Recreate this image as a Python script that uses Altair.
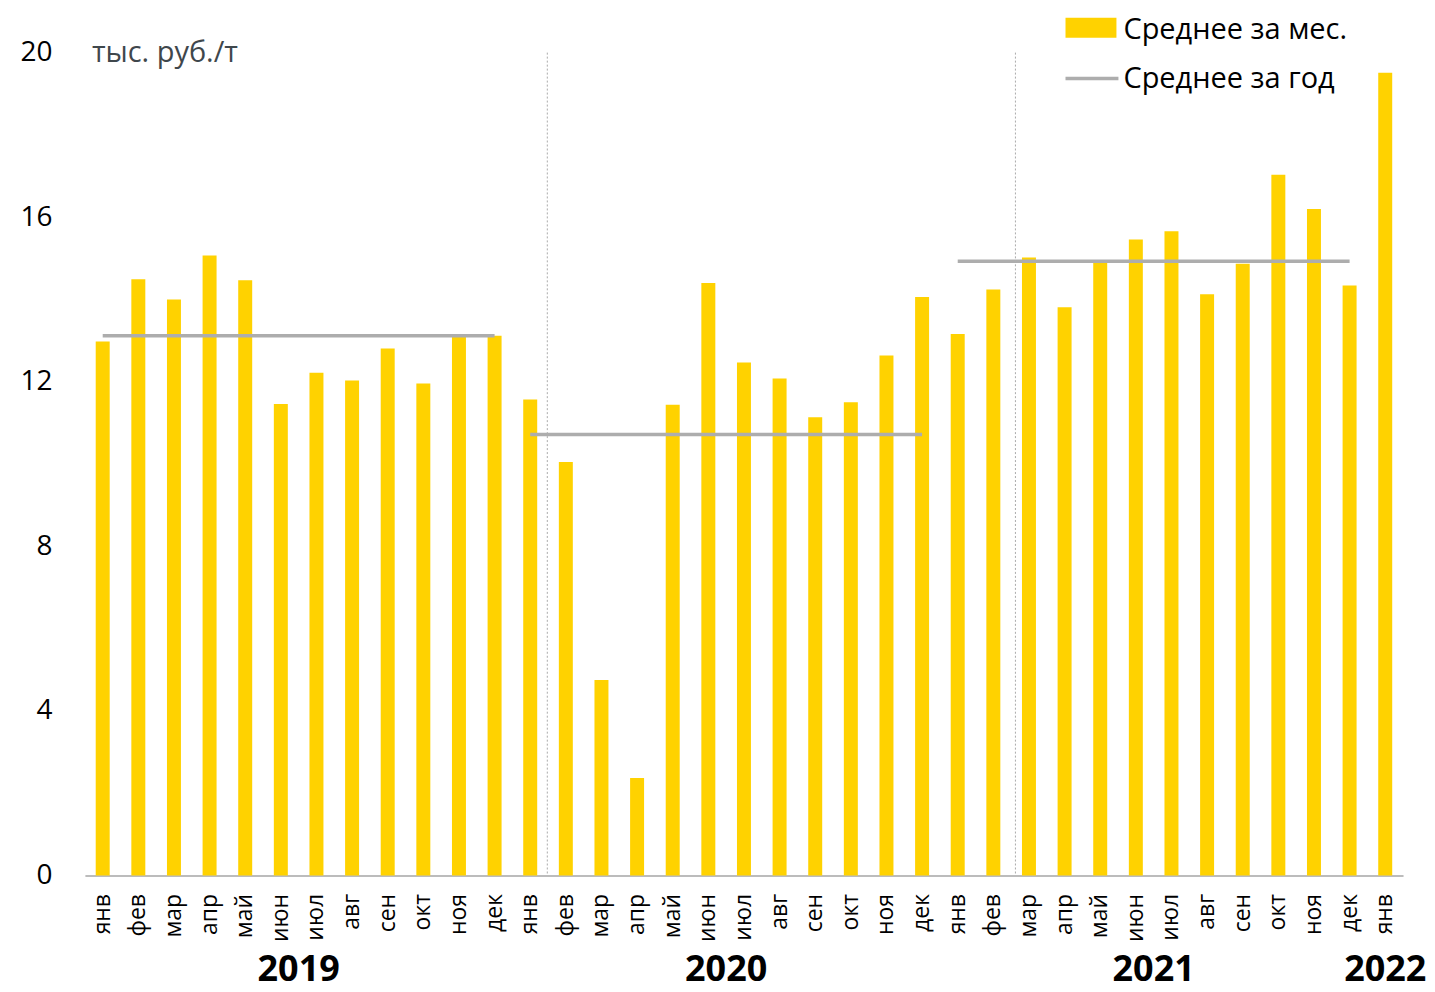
import json
import altair as alt
import pandas as pd

# ---- data ----
months = ["янв", "фев", "мар", "апр", "май", "июн", "июл", "авг", "сен", "окт", "ноя", "дек"] * 3 + ["янв"]
values = [12.98, 14.49, 14.0, 15.07, 14.47, 11.46, 12.22, 12.03, 12.81, 11.96, 13.11, 13.12,
          11.57, 10.05, 4.75, 2.37, 11.44, 14.40, 12.47, 12.08, 11.14, 11.5, 12.64, 14.06,
          13.16, 14.24, 15.02, 13.81, 14.89, 15.46, 15.66, 14.13, 14.87, 17.03, 16.2, 14.34, 19.51]
year_avg = [13.12, 10.72, 14.93]
year_start = [0, 12, 24]
year_end = [11, 23, 35]
years = ["2019", "2020", "2021"]
years_label_idx = [5, 17, 29]
last_year = ["2022"]
last_year_idx = [36]
sep_a_idx = [12]
sep_b_idx = [26]
ticks = [0, 4, 8, 12, 16, 20]
unit = "тыс. руб./т"
legend_bar = "Среднее за мес."
legend_line = "Среднее за год"

FONT = "Open Sans"
YELLOW = "#FFD200"
GRAY = "#ADADAD"
W, H = 1320, 824
N = len(values)

df = pd.DataFrame({"idx": list(range(N)), "value": values})
avg_df = pd.DataFrame({"start": year_start, "end": year_end, "avg": year_avg})
yr_df = pd.DataFrame({"idx": years_label_idx, "year": years})
yr2_df = pd.DataFrame({"idx": last_year_idx, "year": last_year})

xscale = alt.Scale(domain=list(range(N)), paddingInner=0, paddingOuter=0)
yscale = alt.Scale(domain=[0, 20])
label_expr = json.dumps(months, ensure_ascii=False) + "[datum.value]"

bars = alt.Chart(df).mark_bar(size=14, color=YELLOW).encode(
    x=alt.X("idx:O", scale=xscale, title=None,
            axis=alt.Axis(labelExpr=label_expr, labelAngle=270, labelFontSize=23,
                          labelFont=FONT, labelColor="#000000", ticks=False,
                          labelPadding=18, domainColor="#A6A6A6", domainWidth=1.5,
                          grid=False, title=None)),
    y=alt.Y("value:Q", scale=yscale, title=None,
            axis=alt.Axis(values=ticks, labelFontSize=28, labelFont=FONT,
                          labelColor="#000000", ticks=False, domain=False,
                          grid=False, labelPadding=33, title=None)),
)

avg_rules = alt.Chart(avg_df).mark_rule(color=GRAY, strokeWidth=3.5).encode(
    x=alt.X("start:O", scale=xscale, title=None),
    x2="end:O",
    y=alt.Y("avg:Q", scale=yscale, title=None),
)

sep_a = alt.Chart(pd.DataFrame({"idx": sep_a_idx})).mark_rule(
    color="#AAAAAA", strokeDash=[2, 2], strokeWidth=1).encode(
    x=alt.X("idx:O", scale=xscale, title=None, bandPosition=0.98),
    y=alt.value(0), y2=alt.value(H))
sep_b = alt.Chart(pd.DataFrame({"idx": sep_b_idx})).mark_rule(
    color="#AAAAAA", strokeDash=[2, 2], strokeWidth=1).encode(
    x=alt.X("idx:O", scale=xscale, title=None, bandPosition=0.12),
    y=alt.value(0), y2=alt.value(H))

yr_text = alt.Chart(yr_df).mark_text(
    font=FONT, fontSize=36, fontWeight="bold", color="#000000",
    baseline="middle", align="center").encode(
    x=alt.X("idx:O", scale=xscale, title=None, bandPosition=1),
    y=alt.value(919), text="year:N")
yr2_text = alt.Chart(yr2_df).mark_text(
    font=FONT, fontSize=36, fontWeight="bold", color="#000000",
    baseline="middle", align="center").encode(
    x=alt.X("idx:O", scale=xscale, title=None, bandPosition=0.5),
    y=alt.value(919), text="year:N")

unit_text = alt.Chart(pd.DataFrame({"t": [unit]})).mark_text(
    font=FONT, fontSize=29, color="#3F474C", align="left", baseline="middle").encode(
    x=alt.value(7), y=alt.value(0), text="t:N")

leg_rect = alt.Chart(pd.DataFrame({"a": [0]})).mark_rect(color=YELLOW).encode(
    x=alt.value(982), x2=alt.value(1033), y=alt.value(-35), y2=alt.value(-15))
leg_line = alt.Chart(pd.DataFrame({"a": [0]})).mark_rule(color=GRAY, strokeWidth=3.5).encode(
    x=alt.value(982), x2=alt.value(1035), y=alt.value(26))
leg_t1 = alt.Chart(pd.DataFrame({"t": [legend_bar]})).mark_text(
    font=FONT, fontSize=29, color="#000000", align="left", baseline="middle").encode(
    x=alt.value(1040), y=alt.value(-23), text="t:N")
leg_t2 = alt.Chart(pd.DataFrame({"t": [legend_line]})).mark_text(
    font=FONT, fontSize=29, color="#000000", align="left", baseline="middle").encode(
    x=alt.value(1040), y=alt.value(26), text="t:N")

chart = alt.layer(
    bars, sep_a, sep_b, avg_rules, yr_text, yr2_text, unit_text,
    leg_rect, leg_line, leg_t1, leg_t2
).properties(
    width=W, height=H,
    background="#FFFFFF",
    autosize=alt.AutoSizeParams(type="none"),
    padding={"left": 77, "top": 44, "right": 24, "bottom": 116},
).configure_view(stroke=None)

chart.save("out.html", embed_options={"renderer": "svg", "actions": False})
